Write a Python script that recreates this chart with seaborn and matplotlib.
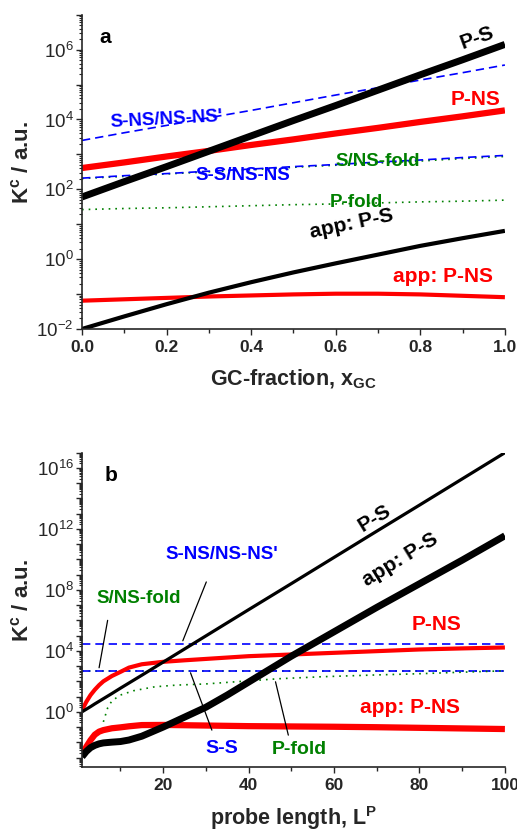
import numpy as np
import pandas as pd
import seaborn as sns
import matplotlib
matplotlib.use('Agg')
import matplotlib.pyplot as plt
from matplotlib.ticker import LogLocator, FuncFormatter, MultipleLocator

# ---- panel a: K^c vs GC-fraction (values given as log10 K^c) ----
gc_frac = [0.0, 0.1, 0.2, 0.3, 0.4, 0.5, 0.6, 0.7, 0.8, 0.9, 1.0]
a_p_s = [1.78, 2.22, 2.65, 3.09, 3.53, 3.97, 4.40, 4.84, 5.28, 5.71, 6.15]
a_p_ns = [2.61, 2.77, 2.94, 3.10, 3.27, 3.43, 3.60, 3.76, 3.93, 4.09, 4.26]
a_sns_nsns = [3.40, 3.62, 3.83, 4.05, 4.26, 4.48, 4.70, 4.91, 5.13, 5.34, 5.56]
a_ss_nsns = [2.32, 2.39, 2.45, 2.52, 2.58, 2.65, 2.71, 2.78, 2.84, 2.91, 2.97]
a_sns_fold = [2.31, 2.37, 2.44, 2.50, 2.56, 2.63, 2.69, 2.75, 2.81, 2.88, 2.94]
a_p_fold = [1.42, 1.45, 1.47, 1.50, 1.53, 1.56, 1.58, 1.61, 1.64, 1.66, 1.69]
a_app_p_s = [-2.00, -1.64, -1.29, -0.96, -0.66, -0.38, -0.12, 0.13, 0.38, 0.60, 0.81]
a_app_p_ns = [-1.19, -1.15, -1.11, -1.07, -1.04, -1.01, -0.99, -0.99, -1.01, -1.05, -1.09]

# ---- panel b: K^c vs probe length (log10 K^c) ----
probe_len = [1, 2, 3, 4, 5, 6, 8, 10, 12, 15, 20, 25, 30, 35, 40, 50, 60, 70, 80, 90, 100]
b_p_s = [0.0, 0.17, 0.34, 0.52, 0.69, 0.86, 1.20, 1.55, 1.89, 2.40, 3.26, 4.12, 4.98,
         5.84, 6.70, 8.41, 10.13, 11.85, 13.56, 15.28, 17.0]
b_app_p_s = [-2.95, -2.60, -2.35, -2.20, -2.10, -2.04, -1.99, -1.95, -1.85, -1.60, -1.00,
             -0.35, 0.30, 1.10, 1.95, 3.65, 5.25, 6.85, 8.40, 9.95, 11.55]
b_p_ns = [0.11, 0.65, 1.10, 1.45, 1.75, 2.00, 2.35, 2.62, 2.90, 3.12, 3.28, 3.38, 3.47,
          3.56, 3.65, 3.76, 3.87, 3.98, 4.09, 4.16, 4.22]
b_app_p_ns = [-2.84, -2.30, -1.86, -1.50, -1.30, -1.20, -1.08, -1.02, -0.95, -0.87, -0.86,
              -0.88, -0.90, -0.92, -0.94, -0.96, -0.98, -1.01, -1.05, -1.09, -1.13]
b_sns_nsns = [4.48] * len(probe_len)
b_ss = [2.69] * len(probe_len)
b_sns_fold = [2.69] * len(probe_len)
fold_len = [6, 7, 8, 10, 13, 18, 23, 30, 40, 47, 57, 70, 80, 90, 100]
b_p_fold = [-0.66, 0.25, 0.72, 1.10, 1.38, 1.64, 1.75, 1.83, 2.03, 2.17, 2.30, 2.42, 2.50, 2.60, 2.69]

RED = '#ff0000'
BLUE = '#0000ff'
GREEN = '#008000'

sns.set_theme(style='ticks')
plt.rcParams['font.family'] = ['Liberation Sans', 'DejaVu Sans']
plt.rcParams['mathtext.fontset'] = 'custom'
plt.rcParams['mathtext.rm'] = 'Liberation Sans'
plt.rcParams['mathtext.bf'] = 'Liberation Sans:bold'
plt.rcParams['mathtext.it'] = 'Liberation Sans:italic'


def draw(ax, x, logk, color, lw, ls='-'):
    df = pd.DataFrame({'x': x, 'k': 10.0 ** np.array(logk)})
    sns.lineplot(data=df, x='x', y='k', ax=ax, color=color, linewidth=lw,
                 linestyle=ls, solid_capstyle='butt')


def style_axis(ax, every):
    ax.set_yscale('log')
    ax.yaxis.set_major_locator(LogLocator(base=10, numticks=40))
    ax.yaxis.set_minor_locator(LogLocator(base=10, subs=np.arange(2, 10), numticks=40))
    ax.yaxis.set_major_formatter(FuncFormatter(
        lambda v, p: r'$10^{%d}$' % round(np.log10(v)) if round(np.log10(v)) % every == 0 else ''))
    ax.tick_params(axis='y', which='major', length=4, width=1, labelsize=13.5, pad=2)
    ax.tick_params(axis='y', which='minor', length=2.2, width=0.8)
    ax.tick_params(axis='x', which='major', length=4, width=1, labelsize=12.5, pad=4)
    ax.tick_params(axis='x', which='minor', length=3, width=1)
    for lab in ax.get_xticklabels():
        lab.set_fontweight('bold')
    sns.despine(ax=ax)
    for s in ['left', 'bottom']:
        ax.spines[s].set_linewidth(1.2)


fig = plt.figure(figsize=(5.17, 8.32), dpi=100)
ax_a = fig.add_axes([0.1586, 0.6046, 0.818, 0.3777])
ax_b = fig.add_axes([0.1586, 0.0785, 0.818, 0.3774])

# ---- panel a ----
draw(ax_a, gc_frac, a_sns_nsns, BLUE, 1.2, (0, (5, 3)))
draw(ax_a, gc_frac, a_sns_fold, GREEN, 1.2, (0, (1, 3)))
draw(ax_a, gc_frac, a_ss_nsns, BLUE, 1.2, (0, (5, 3)))
draw(ax_a, gc_frac, a_p_fold, GREEN, 1.2, (0, (1, 3)))
draw(ax_a, gc_frac, a_p_ns, RED, 4.5)
draw(ax_a, gc_frac, a_p_s, 'black', 5)
draw(ax_a, gc_frac, a_app_p_ns, RED, 3)
draw(ax_a, gc_frac, a_app_p_s, 'black', 3)

ax_a.set_xlim(0, 1)
ax_a.set_ylim(1e-2, 1e7)
ax_a.set_xticks([0.0, 0.2, 0.4, 0.6, 0.8, 1.0])
ax_a.set_xticklabels(['0.0', '0.2', '0.4', '0.6', '0.8', '1.0'])
ax_a.xaxis.set_minor_locator(MultipleLocator(0.1))
style_axis(ax_a, 2)
ax_a.set_xlabel(r'GC-fraction, x$_\mathbf{GC}$', fontsize=15.5, fontweight='bold')
ax_a.set_ylabel(r'K$^\mathbf{c}$ / a.u.', fontsize=16, fontweight='bold')
ax_a.xaxis.set_label_coords(0.5, -0.125)
ax_a.yaxis.set_label_coords(-0.115, 0.53)

txt = dict(ha='center', va='center', fontweight='bold')
ax_a.text(0.054, 10 ** 6.34, 'a', fontsize=15, color='black', **txt)
ax_a.text(0.934, 10 ** 6.34, 'P-S', fontsize=15, color='black', rotation=20, **txt)
ax_a.text(0.20, 10 ** 4.0, "S-NS/NS-NS'", fontsize=13.5, color=BLUE, rotation=3, **txt)
ax_a.text(0.93, 10 ** 4.57, 'P-NS', fontsize=15, color=RED, **txt)
ax_a.text(0.70, 10 ** 2.8, 'S/NS-fold', fontsize=13.5, color=GREEN, **txt)
ax_a.text(0.38, 10 ** 2.4, 'S-S/NS-NS', fontsize=13.5, color=BLUE, **txt)
ax_a.text(0.648, 10 ** 1.63, 'P-fold', fontsize=13.5, color=GREEN, **txt)
ax_a.text(0.638, 10 ** 1.0, 'app: P-S', fontsize=15, color='black', rotation=12, **txt)
ax_a.text(0.853, 10 ** -0.49, 'app: P-NS', fontsize=15, color=RED, **txt)

# ---- panel b ----
draw(ax_b, probe_len, b_sns_nsns, BLUE, 1.2, (0, (5, 3)))
draw(ax_b, probe_len, b_sns_fold, GREEN, 1.2, (0, (1, 3)))
draw(ax_b, probe_len, b_ss, BLUE, 1.2, (0, (5, 3)))
draw(ax_b, fold_len, b_p_fold, GREEN, 1.2, (0, (1, 3)))
draw(ax_b, probe_len, b_p_ns, RED, 3)
draw(ax_b, probe_len, b_p_s, 'black', 2.3)
draw(ax_b, probe_len, b_app_p_ns, RED, 4.5)
draw(ax_b, probe_len, b_app_p_s, 'black', 5)

ax_b.set_xlim(1, 100)
ax_b.set_ylim(10 ** -3.6, 1e17)
ax_b.set_xticks([20, 40, 60, 80, 100])
ax_b.set_xticklabels(['20', '40', '60', '80', '100'])
ax_b.xaxis.set_minor_locator(MultipleLocator(10))
style_axis(ax_b, 4)
ax_b.set_xlabel(r'probe length, L$^\mathbf{P}$', fontsize=15.5, fontweight='bold')
ax_b.set_ylabel(r'K$^\mathbf{c}$ / a.u.', fontsize=16, fontweight='bold')
ax_b.xaxis.set_label_coords(0.5, -0.12)
ax_b.yaxis.set_label_coords(-0.115, 0.53)

ax_b.text(7.7, 10 ** 15.5, 'b', fontsize=15, color='black', **txt)
ax_b.text(69.4, 10 ** 12.7, 'P-S', fontsize=15, color='black', rotation=31.5, **txt)
ax_b.text(75.6, 10 ** 9.95, 'app: P-S', fontsize=15, color='black', rotation=31.5, **txt)
ax_b.text(83.9, 10 ** 5.7, 'P-NS', fontsize=15, color=RED, **txt)
ax_b.text(77.7, 10 ** 0.3, 'app: P-NS', fontsize=15, color=RED, **txt)

leader = dict(arrowstyle='-', color='black', lw=0.9, shrinkA=0, shrinkB=0)
ax_b.text(33.7, 10 ** 10.3, "S-NS/NS-NS'", fontsize=13.5, color=BLUE, **txt)
ax_b.annotate('', xy=(24.6, 10 ** 4.66), xytext=(30.1, 10 ** 8.52), arrowprops=leader)
ax_b.text(14.3, 10 ** 7.45, 'S/NS-fold', fontsize=13.5, color=GREEN, **txt)
ax_b.annotate('', xy=(5.0, 10 ** 2.89), xytext=(7.0, 10 ** 6.0), arrowprops=leader)
ax_b.text(33.7, 10 ** -2.4, 'S-S', fontsize=14, color=BLUE, **txt)
ax_b.annotate('', xy=(26.4, 10 ** 2.56), xytext=(31.4, 10 ** -1.2), arrowprops=leader)
ax_b.text(51.8, 10 ** -2.5, 'P-fold', fontsize=14, color=GREEN, **txt)
ax_b.annotate('', xy=(46.3, 10 ** 1.97), xytext=(49.3, 10 ** -1.53), arrowprops=leader)

for ax in (ax_a, ax_b):
    ax.set_facecolor('white')
fig.savefig('out.png', dpi=100, facecolor='white')
